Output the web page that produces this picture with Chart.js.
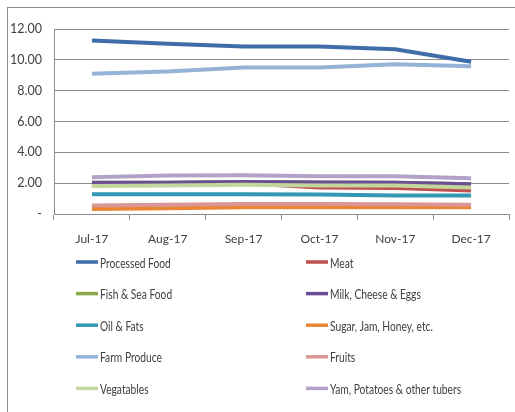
<!DOCTYPE html>
<html>
<head>
<meta charset="utf-8">
<script src="https://cdn.jsdelivr.net/npm/chart.js@4/dist/chart.umd.min.js"></script>
<style>
  html, body { margin: 0; padding: 0; background: #ffffff; }
  #wrap { width: 515px; height: 412px; }
</style>
</head>
<body>
<div id="wrap"><canvas id="c" width="515" height="412"></canvas></div>
<script>
// Monthly categories
const months = ['Jul-17', 'Aug-17', 'Sep-17', 'Oct-17', 'Nov-17', 'Dec-17'];

// Series values per month
const processedFood = [11.25, 11.04, 10.86, 10.87, 10.68, 9.87];
const meat          = [1.90, 1.95, 2.00, 1.72, 1.68, 1.53];
const fishSeaFood   = [2.03, 2.03, 2.08, 2.05, 2.03, 1.93];
const milkCheese    = [2.03, 2.03, 2.08, 2.05, 2.03, 1.93];
const oilFats       = [1.28, 1.28, 1.28, 1.27, 1.20, 1.20];
const sugarJam      = [0.33, 0.38, 0.43, 0.43, 0.43, 0.43];
const farmProduce   = [9.09, 9.25, 9.50, 9.50, 9.72, 9.59];
const fruits        = [0.55, 0.60, 0.65, 0.65, 0.63, 0.60];
const vegetables    = [1.82, 1.85, 1.90, 1.85, 1.85, 1.72];
const yamPotatoes   = [2.38, 2.50, 2.52, 2.45, 2.45, 2.32];

// Series names
const seriesNames = [
  'Processed Food', 'Meat', 'Fish & Sea Food', 'Milk, Cheese & Eggs',
  'Oil & Fats', 'Sugar, Jam, Honey, etc.', 'Farm Produce', 'Fruits',
  'Vegatables', 'Yam, Potatoes & other tubers'
];
const seriesValues = [
  processedFood, meat, fishSeaFood, milkCheese, oilFats,
  sugarJam, farmProduce, fruits, vegetables, yamPotatoes
];
const seriesColors = [
  '#3e6daa', '#c0504d', '#86a845', '#6b4e94', '#3497b3',
  '#ea8633', '#95b3d7', '#d99694', '#c3d69b', '#b3a2c7'
];

// Y tick range
const yMin = 0, yMax = 12, yStep = 2;

const FONT = 'Lato, Roboto, "Liberation Sans", sans-serif';
const TEXT = '#404040';
const GRID = '#8c8c8c';

const frame = {
  id: 'frame',
  beforeDraw(chart) {
    const ctx = chart.ctx;
    ctx.save();
    ctx.fillStyle = '#ffffff';
    ctx.fillRect(0, 0, chart.width, chart.height);
    ctx.strokeStyle = '#8c8c8c';
    ctx.lineWidth = 1;
    ctx.strokeRect(7.5, 7.5, chart.width + 20, chart.height + 20);
    ctx.restore();
  }
};

// Two-column legend below the axis, with narrow lettering
const columnLegend = {
  id: 'columnLegend',
  afterDraw(chart) {
    const ctx = chart.ctx;
    const squeeze = 0.73;
    chart.data.datasets.forEach((ds, i) => {
      const col = i % 2, row = Math.floor(i / 2);
      const x = col === 0 ? 76 : 306;
      const y = 262 + row * 31.6;
      ctx.save();
      ctx.strokeStyle = ds.borderColor;
      ctx.lineWidth = 3.5;
      ctx.beginPath();
      ctx.moveTo(x, y);
      ctx.lineTo(x + 22, y);
      ctx.stroke();
      ctx.translate(x + 24, y);
      ctx.scale(squeeze, 1);
      ctx.font = '14px ' + FONT;
      ctx.textBaseline = 'middle';
      ctx.textAlign = 'left';
      ctx.fillStyle = TEXT;
      ctx.fillText(ds.label, 0, 1);
      ctx.restore();
    });
  }
};

new Chart(document.getElementById('c'), {
  type: 'line',
  data: {
    labels: months,
    datasets: seriesNames.map((name, i) => ({
      label: name,
      data: seriesValues[i],
      borderColor: seriesColors[i],
      backgroundColor: seriesColors[i],
      borderWidth: 4,
      pointRadius: 0,
      tension: 0,
      order: seriesNames.length - i
    }))
  },
  options: {
    responsive: false,
    animation: false,
    devicePixelRatio: 1,
    layout: { padding: { top: 29, right: 6, left: 0, bottom: 0 } },
    plugins: {
      legend: { display: false },
      tooltip: { enabled: false }
    },
    scales: {
      x: {
        offset: true,
        grid: {
          offset: true,
          drawOnChartArea: false,
          drawTicks: true,
          tickLength: 6,
          color: GRID
        },
        border: { color: GRID },
        ticks: { color: TEXT, font: { family: FONT, size: 12 }, padding: 12, maxRotation: 0 },
        afterFit(scale) { scale.height = 198; }
      },
      y: {
        min: yMin,
        max: yMax,
        grid: { color: GRID, drawTicks: false },
        border: { color: GRID },
        ticks: {
          stepSize: yStep,
          color: TEXT,
          font: { family: FONT, size: 12.5 },
          padding: 12,
          callback: v => v === 0 ? '-' : v.toFixed(2)
        },
        afterFit(scale) { scale.width = 54; }
      }
    }
  },
  plugins: [frame, columnLegend]
});
</script>
</body>
</html>
